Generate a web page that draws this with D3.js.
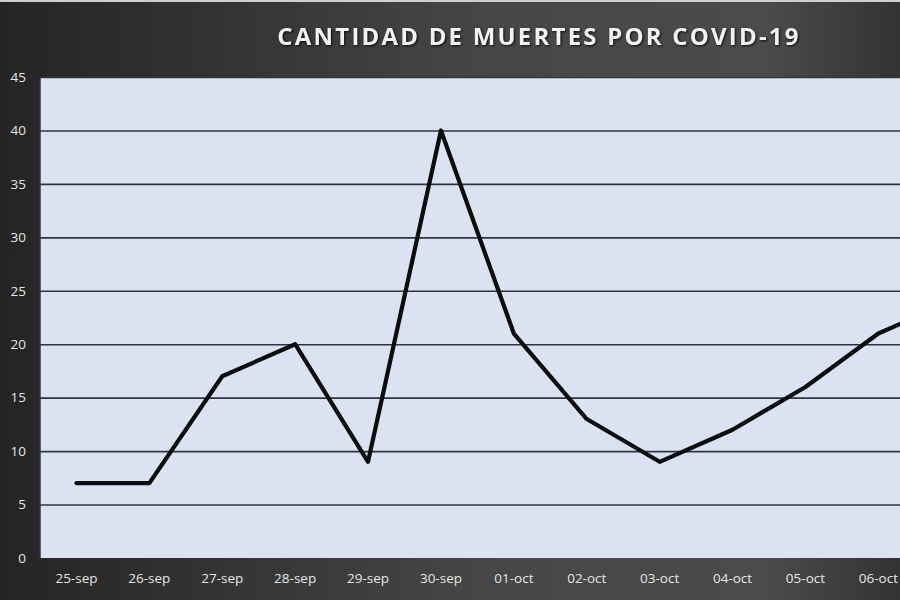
<!DOCTYPE html>
<html>
<head>
<meta charset="utf-8" />
<title>Cantidad de muertes por COVID-19</title>
<script src="https://cdn.jsdelivr.net/npm/d3@7"></script>
<style>
	html, body { margin: 0; padding: 0; overflow: hidden; background: #2b2b2b; }
	svg { display: block; }
	.tick text { fill: #e6e6e6; font-family: "Open Sans", "DejaVu Sans", sans-serif; font-size: 13.5px; }
	.grid line { stroke: #2f3440; stroke-width: 1.6; }
	.grid path { stroke-width: 0; }
</style>
</head>
<body>
<script>
// datos
var fechas = ["25-sep", "26-sep", "27-sep", "28-sep", "29-sep", "30-sep", "01-oct",
              "02-oct", "03-oct", "04-oct", "05-oct", "06-oct", "07-oct"];
var muertes = [7, 7, 17, 20, 9, 40, 21, 13, 9, 12, 16, 21, 24];
var yTicks = [0, 5, 10, 15, 20, 25, 30, 35, 40, 45];
var titulo = "CANTIDAD DE MUERTES POR COVID-19";

var data = fechas.map(function (f, i) { return { fecha: f, valor: muertes[i] }; });

var svg = d3.select("body").append("svg")
	.attr("width", 900)
	.attr("height", 600);

// fondo degradado oscuro
var defs = svg.append("defs");
var grad = defs.append("linearGradient").attr("id", "fondo")
	.attr("x1", "0%").attr("y1", "0%").attr("x2", "100%").attr("y2", "0%");
grad.append("stop").attr("offset", "0%").attr("stop-color", "#242424");
grad.append("stop").attr("offset", "55%").attr("stop-color", "#474747");
grad.append("stop").attr("offset", "85%").attr("stop-color", "#4b4b4b");
grad.append("stop").attr("offset", "100%").attr("stop-color", "#333333");

svg.append("rect").attr("width", 900).attr("height", 600).attr("fill", "url(#fondo)");
svg.append("rect").attr("width", 900).attr("height", 2).attr("fill", "#cfcfcf");

var margin = { top: 77, left: 40 },
	step = 72.9,
	height = 558 - margin.top;

var x = d3.scaleBand()
	.domain(fechas)
	.range([margin.left, margin.left + step * fechas.length]);

var y = d3.scaleLinear()
	.domain([0, 45])
	.range([558, margin.top]);

// area de trazado
svg.append("rect")
	.attr("x", margin.left)
	.attr("y", margin.top)
	.attr("width", step * fechas.length)
	.attr("height", height)
	.attr("fill", "#dbe2f1");

// lineas horizontales
svg.append("g")
	.attr("class", "grid")
	.attr("transform", "translate(" + margin.left + ",0)")
	.call(d3.axisLeft(y).tickValues(yTicks.slice(1)).tickSize(-step * fechas.length).tickFormat(""));

// eje Y
svg.append("g")
	.attr("transform", "translate(" + (margin.left - 14) + ",0)")
	.call(d3.axisLeft(y).tickValues(yTicks).tickSize(0).tickPadding(0))
	.call(function (g) { g.select(".domain").remove(); });

svg.append("line")
	.attr("x1", margin.left).attr("x2", margin.left)
	.attr("y1", margin.top).attr("y2", 558)
	.attr("stroke", "#2f3440").attr("stroke-width", 1.5);

// eje X
svg.append("g")
	.attr("transform", "translate(0,558)")
	.call(d3.axisBottom(x).tickSize(0).tickPadding(15))
	.call(function (g) { g.select(".domain").remove(); });

// linea de datos
var line = d3.line()
	.x(function (d) { return x(d.fecha) + x.bandwidth() / 2; })
	.y(function (d) { return y(d.valor); });

svg.append("path")
	.datum(data)
	.attr("fill", "none")
	.attr("stroke", "#0d0d0d")
	.attr("stroke-width", 4.2)
	.attr("stroke-linejoin", "round")
	.attr("stroke-linecap", "round")
	.attr("d", line);

// titulo
svg.append("text")
	.attr("x", 539)
	.attr("y", 45)
	.attr("text-anchor", "middle")
	.attr("fill", "#f2f2f2")
	.style("font-family", "'Open Sans', 'DejaVu Sans', sans-serif")
	.style("font-weight", "bold")
	.style("font-size", "24px")
	.style("letter-spacing", "2.2px")
	.style("filter", "drop-shadow(1px 1px 1px rgba(0,0,0,0.8))")
	.text(titulo);
</script>
</body>
</html>
